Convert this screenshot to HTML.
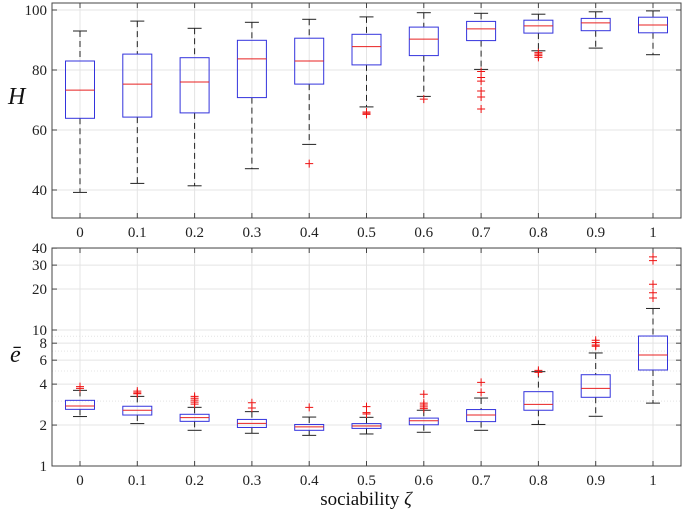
<!DOCTYPE html>
<html><head><meta charset="utf-8"><style>
html,body{margin:0;padding:0;background:#fff}
svg{display:block;font-family:"Liberation Serif","DejaVu Serif",serif}
</style></head><body>
<svg id="chart" width="683" height="512" viewBox="0 0 683 512"></svg>
<script>
const categories=["0","0.1","0.2","0.3","0.4","0.5","0.6","0.7","0.8","0.9","1"];
// Top panel: H  [lowWhisker, q1, median, q3, highWhisker]
const hLow=[39.2,42.2,41.4,47.1,55.2,67.7,71.2,80.2,86.4,87.3,85.1];
const hQ1=[63.9,64.3,65.7,70.8,75.3,81.7,84.8,89.8,92.3,93.1,92.4];
const hMed=[73.3,75.3,76.0,83.7,83.0,87.8,90.3,93.7,94.7,95.7,95.0];
const hQ3=[83.0,85.3,84.1,89.9,90.6,91.9,94.3,96.2,96.6,97.2,97.6];
const hHigh=[93.0,96.3,93.9,95.9,96.9,97.7,99.1,98.9,98.6,99.4,99.7];
const hOut=[[],[],[],[],[48.8],[65.2,65.6,66.0],[70.3],[79.5,77.5,76.3,73,71,67],[85.8,85.3,84.8,84.2],[],[]];
const hTicks=[40,60,80,100];
// Bottom panel: e-bar (log)
const eLow=[2.31,2.05,1.83,1.74,1.68,1.72,1.77,1.83,2.02,2.32,2.9];
const eQ1=[2.61,2.37,2.13,1.92,1.83,1.89,2.01,2.12,2.57,3.2,5.08];
const eMed=[2.76,2.57,2.27,2.06,1.94,1.97,2.15,2.37,2.84,3.72,6.55];
const eQ3=[3.04,2.75,2.4,2.2,2.02,2.05,2.25,2.6,3.52,4.69,9.03];
const eHigh=[3.6,3.25,2.7,2.51,2.29,2.28,2.57,3.16,4.94,6.78,14.4];
const eOut=[[3.83,3.72],[3.55,3.45,3.4],[3.25,3.15,3.05,2.95,2.85],[2.92,2.67],[2.7],[2.73,2.47,2.41],[3.37,2.9,2.81,2.72,2.64],[4.12,3.48],[5.05,4.88],[8.4,8.1,7.75,7.6],[34.5,32.4,21.7,18.8,17.2]];
const eTicks=[1,2,4,6,8,10,20,30,40];
const eMinor=[3,5,7,9];

const NS="http://www.w3.org/2000/svg";
const svg=document.getElementById('chart');
function mk(tag,attrs,parent){const e=document.createElementNS(NS,tag);for(const k in attrs)e.setAttribute(k,attrs[k]);(parent||svg).appendChild(e);return e;}
const L=52,R=681;
const xS=i=>80+i*(653-80)/10;
const yTop=v=>10+(100-v)*3;            // top panel
const yBot=v=>466-136*Math.log10(v);   // bottom panel
const HW=14.5;

function panel(name,top,bottom,yS,ticks,minor,low,q1,med,q3,high,out,fmt){
  const g=mk('g',{});
  
  
  categories.forEach((c,i)=>{mk('line',{x1:xS(i),x2:xS(i),y1:top,y2:bottom,stroke:'#e4e4e4','stroke-width':1},g);});
  ticks.forEach(t=>{mk('line',{x1:L,x2:R,y1:yS(t),y2:yS(t),stroke:'#e4e4e4','stroke-width':1},g);});
  minor.forEach(t=>{mk('line',{x1:L,x2:R,y1:yS(t),y2:yS(t),stroke:'#e4e4e4','stroke-width':1,'stroke-dasharray':'1,2'},g);});
  categories.forEach((c,i)=>{
    const x=xS(i);
    const b=mk('g',{},g);
    
    
    mk('line',{x1:x,x2:x,y1:yS(high[i]),y2:yS(q3[i]),stroke:'#222','stroke-dasharray':'6,4'},b);
    mk('line',{x1:x,x2:x,y1:yS(q1[i]),y2:yS(low[i]),stroke:'#222','stroke-dasharray':'6,4'},b);
    mk('line',{x1:x-7,x2:x+7,y1:yS(high[i]),y2:yS(high[i]),stroke:'#222'},b);
    mk('line',{x1:x-7,x2:x+7,y1:yS(low[i]),y2:yS(low[i]),stroke:'#222'},b);
    mk('rect',{x:x-HW,y:yS(q3[i]),width:2*HW,height:yS(q1[i])-yS(q3[i]),fill:'none',stroke:'#3333dd','stroke-width':1},b);
    mk('line',{x1:x-HW,x2:x+HW,y1:yS(med[i]),y2:yS(med[i]),stroke:'#e82020'},b);
    out[i].forEach(v=>{const y=yS(v);mk('path',{d:`M${x-4},${y}H${x+4}M${x},${y-4}V${y+4}`,stroke:'#ee1111','stroke-width':1},b);});
  });
  mk('rect',{x:L,y:top,width:R-L,height:bottom-top,fill:'none',stroke:'#444','stroke-width':1},g);
  ticks.forEach(t=>{
    mk('line',{x1:L,x2:L+5,y1:yS(t),y2:yS(t),stroke:'#444'},g);
    mk('line',{x1:R-5,x2:R,y1:yS(t),y2:yS(t),stroke:'#444'},g);
    const tx=mk('text',{x:L-5,y:yS(t)+5,'text-anchor':'end','font-size':15,fill:'#222'},g);tx.textContent=fmt(t);
  });
  categories.forEach((c,i)=>{
    mk('line',{x1:xS(i),x2:xS(i),y1:bottom,y2:bottom-5,stroke:'#444'},g);
    mk('line',{x1:xS(i),x2:xS(i),y1:top,y2:top+5,stroke:'#444'},g);
    const tx=mk('text',{x:xS(i),y:bottom+19,'text-anchor':'middle','font-size':15,fill:'#222'},g);tx.textContent=c;
  });
}
panel('top-panel-H',3,218,yTop,hTicks,[],hLow,hQ1,hMed,hQ3,hHigh,hOut,String);
panel('bottom-panel-ebar',248,466,yBot,eTicks,eMinor,eLow,eQ1,eMed,eQ3,eHigh,eOut,String);

const yl1=mk('text',{x:8,y:104,'font-size':24,'font-style':'italic',fill:'#111'});yl1.textContent='H';

const yl2=mk('text',{x:10,y:362,'font-size':24,'font-style':'italic',fill:'#111'});yl2.textContent='ē';

const xl=mk('text',{x:366,y:505,'text-anchor':'middle','font-size':19,fill:'#111'});xl.innerHTML='sociability <tspan font-style="italic">ζ</tspan>';

</script>
</body></html>
